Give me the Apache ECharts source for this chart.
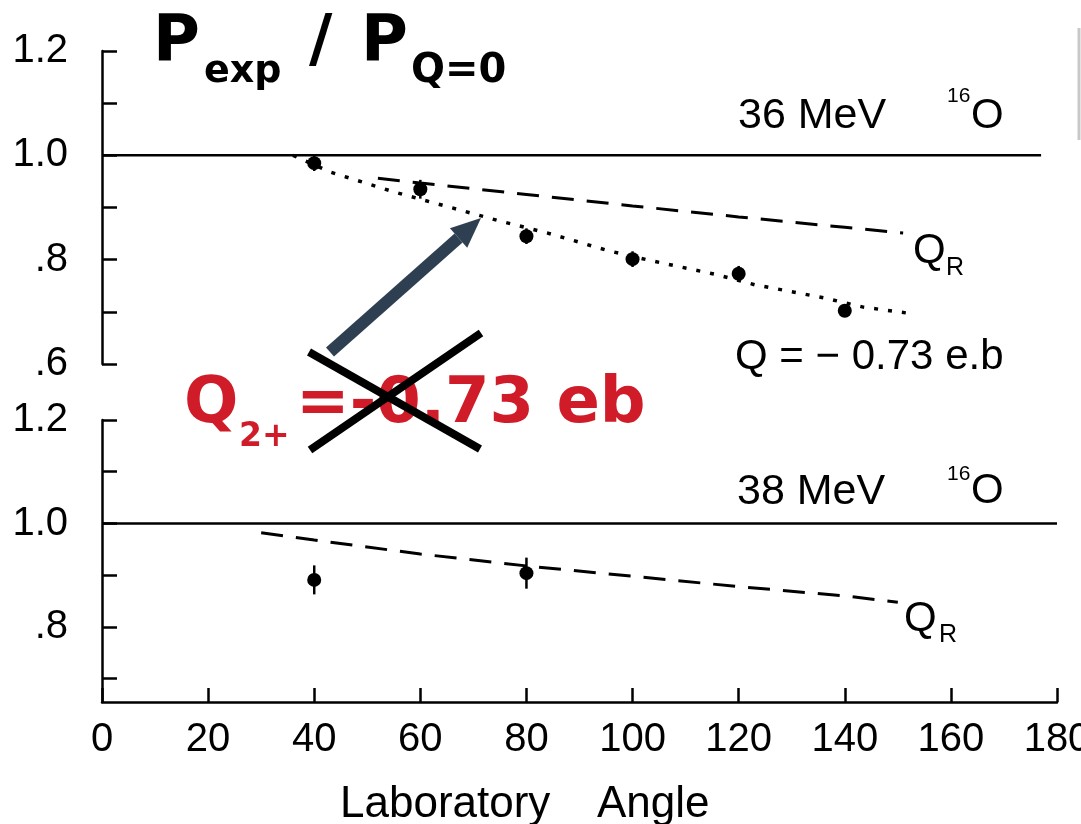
<!DOCTYPE html>
<html><head><meta charset="utf-8">
<script src="https://cdn.jsdelivr.net/npm/echarts@6/dist/echarts.min.js"></script>
<style>html,body{margin:0;padding:0;background:#fff}#c{width:1081px;height:824px}</style>
</head><body><div id="c"></div>
<script>
// ---- data ----
const topPointsAngle = [40, 60, 80, 100, 120, 140];
const topPointsValue = [0.985, 0.935, 0.845, 0.801, 0.773, 0.702];
const topPointsErr   = [0.015, 0.018, 0.015, 0.015, 0.015, 0.012];
const topQRAngle = [52, 60, 80, 100, 120, 140, 151];
const topQRValue = [0.956, 0.947, 0.925, 0.903, 0.882, 0.862, 0.851];
const topQ073Angle = [36, 43, 55, 62.5, 75, 84, 95.5, 103.5, 116, 123, 136, 143.5, 151.5];
const topQ073Value = [1.0, 0.968, 0.93, 0.909, 0.874, 0.851, 0.817, 0.798, 0.771, 0.752, 0.727, 0.709, 0.698];
const topUnityAngle = [0, 177];
const botPointsAngle = [40, 80];
const botPointsValue = [0.891, 0.904];
const botPointsErr   = [0.028, 0.030];
const botQRAngle = [30, 40, 60, 80, 100, 120, 140, 150];
const botQRValue = [0.982, 0.968, 0.941, 0.918, 0.898, 0.878, 0.860, 0.848];
const botUnityAngle = [0, 180];
const xTicks = [0, 20, 40, 60, 80, 100, 120, 140, 160, 180];
const yTicksTop = [0.6, 0.7, 0.8, 0.9, 1.0, 1.1, 1.2];
const yLabelsTop = [0.6, 0.8, 1.0, 1.2];
const yTicksBot = [0.7, 0.8, 0.9, 1.0, 1.1, 1.2];
const yLabelsBot = [0.8, 1.0, 1.2];

const zip = (a, b, c) => a.map((v, i) => c ? [v, b[i], c[i]] : [v, b[i]]);
const fmtY = v => v >= 1 ? v.toFixed(1) : '.' + Math.round(v * 10);
const LAB = 'Liberation Sans';
const BOLD = 'DejaVu Sans';

function yAxis(gi, min, max, ticks, labels) {
  return {
    type: 'value', gridIndex: gi, min: min, max: max,
    axisLine: { show: true, lineStyle: { color: '#000', width: 2.5 } },
    axisTick: { show: true, inside: true, length: 15, customValues: ticks, lineStyle: { color: '#000', width: 2.5 } },
    axisLabel: { customValues: labels, formatter: fmtY, margin: 34, color: '#000', fontSize: 40, fontFamily: LAB },
    splitLine: { show: false }
  };
}
function errBars(xi, data) {
  return {
    type: 'custom', xAxisIndex: xi, yAxisIndex: xi, data: data, encode: { x: 0, y: 1 },
    renderItem: (p, api) => {
      const x = api.value(0), y = api.value(1), e = api.value(2);
      const a = api.coord([x, y + e]), b = api.coord([x, y - e]);
      return { type: 'line', shape: { x1: a[0], y1: a[1], x2: b[0], y2: b[1] }, style: { stroke: '#000', lineWidth: 2.5 } };
    }
  };
}
function line(xi, data, type, width) {
  return { type: 'line', xAxisIndex: xi, yAxisIndex: xi, data: data, showSymbol: false, symbol: 'none',
    lineStyle: { color: '#000', width: width, type: type, opacity: 1 }, silent: true };
}
function pts(xi, data) {
  return { type: 'scatter', xAxisIndex: xi, yAxisIndex: xi, data: data, symbol: 'circle', symbolSize: 14,
    itemStyle: { color: '#000', opacity: 1 } };
}
function txt(x, y, s, size, opts) {
  opts = opts || {};
  return { type: 'text', x: x, y: y, z: 100,
    style: { text: s, fontSize: size, fontFamily: opts.family || LAB, fontWeight: opts.weight || 'normal',
      fill: opts.fill || '#000', align: opts.align || 'left', verticalAlign: 'middle' } };
}
function seg(x1, y1, x2, y2, w, c) {
  return { type: 'line', z: 100, shape: { x1, y1, x2, y2 }, style: { stroke: c || '#000', lineWidth: w } };
}

// arrow geometry (annotation)
const aTail = [330, 352], aTip = [481, 218];
const dx = aTip[0] - aTail[0], dy = aTip[1] - aTail[1], L = Math.hypot(dx, dy);
const ux = dx / L, uy = dy / L, nx = -uy, ny = ux;
const hb = [aTip[0] - 30 * ux, aTip[1] - 30 * uy];
const RED = '#d01c28';

const chart = echarts.init(document.getElementById('c'), null, { renderer: 'canvas' });
chart.setOption({
  animation: false,
  backgroundColor: '#fff',
  grid: [
    { left: 102, top: 51, width: 955, height: 313, containLabel: false, outerBoundsMode: 'none' },
    { left: 102, top: 420, width: 955, height: 282, containLabel: false, outerBoundsMode: 'none' }
  ],
  xAxis: [
    { type: 'value', gridIndex: 0, min: 0, max: 180, show: false },
    { type: 'value', gridIndex: 1, min: 0, max: 180, interval: 20,
      axisLine: { show: true, lineStyle: { color: '#000', width: 2.5 } },
      axisTick: { show: true, inside: true, length: 14, customValues: xTicks, lineStyle: { color: '#000', width: 2.5 } },
      axisLabel: { customValues: xTicks, margin: 18, color: '#000', fontSize: 40, fontFamily: LAB },
      splitLine: { show: false } }
  ],
  yAxis: [
    yAxis(0, 0.6, 1.2, yTicksTop, yLabelsTop),
    yAxis(1, 0.655, 1.2, yTicksBot, yLabelsBot)
  ],
  series: [
    line(0, topUnityAngle.map(a => [a, 1.0]), 'solid', 2.5),
    line(0, zip(topQRAngle, topQRValue), [22, 13], 3),
    line(0, zip(topQ073Angle, topQ073Value), [4, 10], 3.5),
    errBars(0, zip(topPointsAngle, topPointsValue, topPointsErr)),
    pts(0, zip(topPointsAngle, topPointsValue)),
    line(1, botUnityAngle.map(a => [a, 1.0]), 'solid', 2.5),
    line(1, zip(botQRAngle, botQRValue), [22, 13], 3),
    errBars(1, zip(botPointsAngle, botPointsValue, botPointsErr)),
    pts(1, zip(botPointsAngle, botPointsValue))
  ],
  graphic: [
    // title
    txt(153, 43, 'P', 64, { family: BOLD, weight: 'bold' }),
    txt(204, 72, 'exp', 38, { family: BOLD, weight: 'bold' }),
    txt(309, 43, '/', 64, { family: BOLD, weight: 'bold' }),
    txt(361, 43, 'P', 64, { family: BOLD, weight: 'bold' }),
    txt(411, 72, 'Q=0', 40, { family: BOLD, weight: 'bold' }),
    // panel texts
    txt(738, 116, '36 MeV', 43),
    txt(947, 96, '16', 21),
    txt(971, 116, 'O', 42),
    txt(913, 251, 'Q', 42),
    txt(946, 268, 'R', 25),
    txt(735, 357, 'Q = − 0.73 e.b', 42),
    txt(737, 492, '38 MeV', 43),
    txt(947, 474, '16', 21),
    txt(971, 491, 'O', 42),
    txt(904, 619, 'Q', 42),
    txt(939, 635, 'R', 25),
    txt(340, 805, 'Laboratory', 44),
    txt(597, 805, 'Angle', 44),
    // red annotation
    txt(184, 405, 'Q', 64, { family: BOLD, weight: 'bold', fill: RED }),
    txt(239, 437, '2+', 33, { family: BOLD, weight: 'bold', fill: RED }),
    txt(296, 405, '=-0.73 eb', 64, { family: BOLD, weight: 'bold', fill: RED }),
    // cross
    seg(309, 352, 480, 449, 8),
    seg(310, 450, 481, 333, 8),
    // arrow
    seg(aTail[0], aTail[1], hb[0], hb[1], 12, '#2e3f51'),
    { type: 'polygon', z: 100, shape: { points: [aTip, [hb[0] + 13 * nx, hb[1] + 13 * ny], [hb[0] - 13 * nx, hb[1] - 13 * ny]] },
      style: { fill: '#2e3f51' } },
    // scan edge artifact
    seg(1079, 28, 1079, 140, 3, '#c8c8c8')
  ]
});
</script></body></html>
